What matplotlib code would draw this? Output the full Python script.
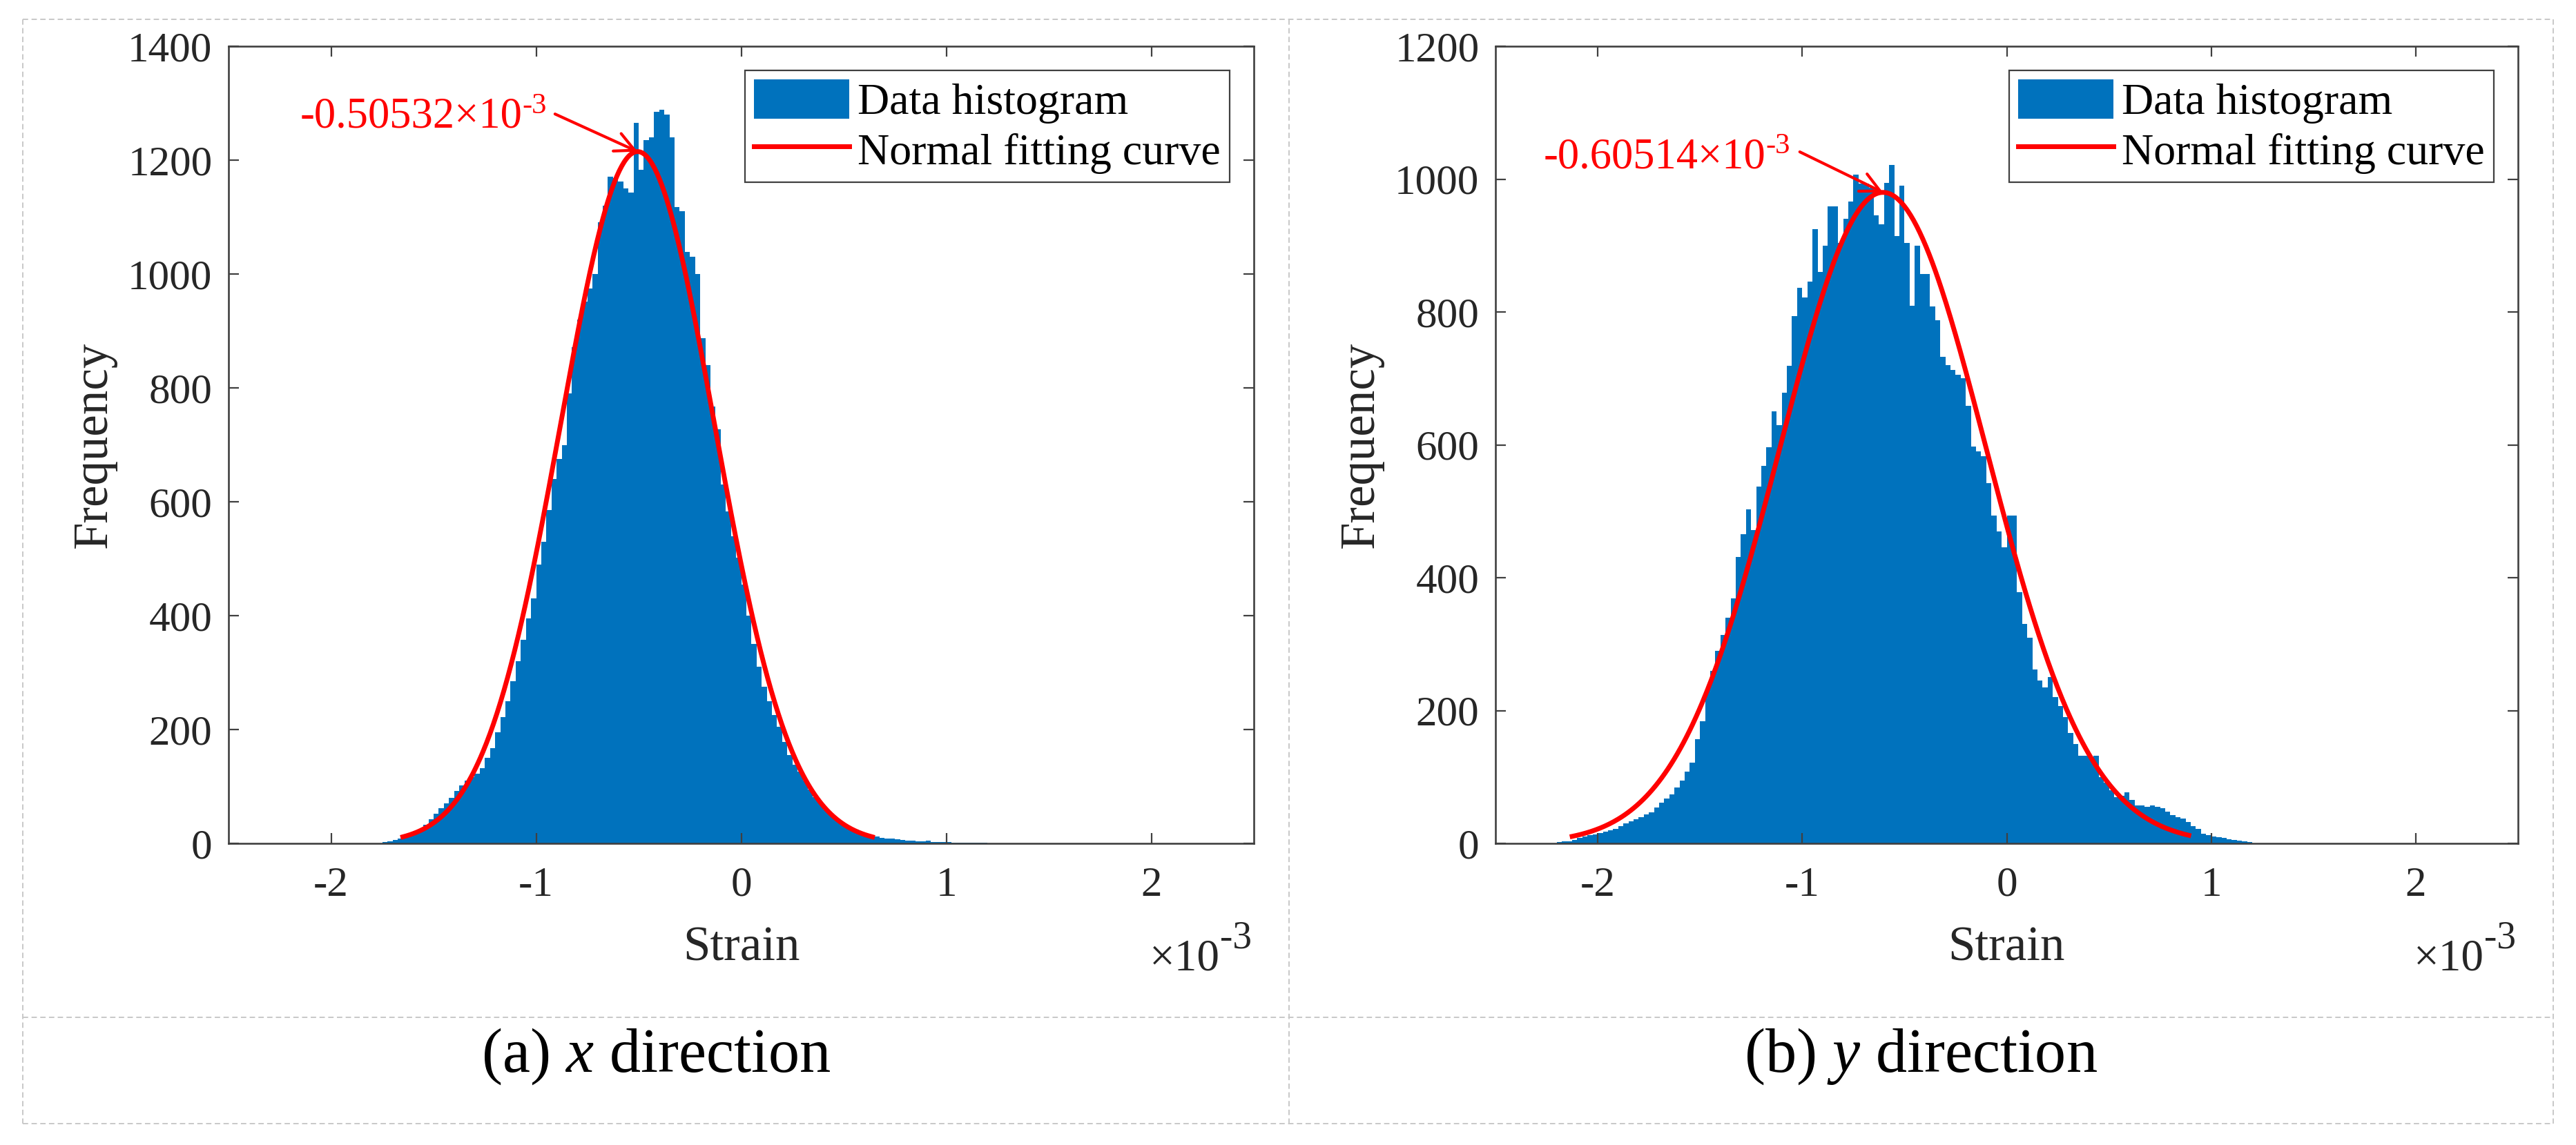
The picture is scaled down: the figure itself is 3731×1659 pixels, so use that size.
import numpy as np
import matplotlib
matplotlib.use("Agg")
import matplotlib.pyplot as plt
from matplotlib.lines import Line2D

W, H, DPI = 3731, 1659, 100

plt.rcParams["font.family"] = ["Liberation Serif", "DejaVu Serif"]
plt.rcParams["mathtext.fontset"] = "custom"
plt.rcParams["mathtext.rm"] = "Liberation Serif"
plt.rcParams["mathtext.it"] = "Liberation Serif:italic"
plt.rcParams["axes.unicode_minus"] = False

# ---- data (strain in units of 1e-3) ----
bin_width = 0.025

x_hist_start = -1.75
x_counts = [
    2, 4, 6, 9, 12, 15, 20, 26, 33, 42,
    52, 62, 70, 80, 92, 102, 110, 116, 122, 132,
    150, 167, 195, 222, 250, 285, 320, 358, 395, 430,
    490, 530, 585, 640, 675, 700, 790, 871, 920, 951,
    975, 1000, 1091, 1120, 1171, 1168, 1163, 1150, 1143, 1265,
    1183, 1235, 1240, 1285, 1288, 1280, 1240, 1118, 1110, 1039,
    1030, 1000, 887, 840, 767, 727, 630, 583, 540, 502,
    455, 400, 350, 310, 275, 250, 225, 205, 178, 155,
    138, 126, 110, 95, 81, 70, 60, 52, 45, 38,
    32, 27, 24, 20, 16, 14, 12, 10, 9, 8,
    7, 6, 5, 5, 4, 4, 5, 3, 2, 2,
    2, 1, 1, 1, 1, 1, 1, 1,
]

y_hist_start = -2.2
y_counts = [
    2, 3, 3, 5, 8, 10, 12, 14, 16, 18,
    20, 22, 26, 30, 33, 36, 40, 44, 47, 54,
    61, 68, 74, 84, 95, 108, 122, 157, 184, 232,
    260, 290, 314, 340, 369, 431, 465, 503, 472, 537,
    568, 596, 650, 630, 678, 719, 794, 836, 822, 846,
    925, 860, 900, 959, 959, 904, 940, 966, 1007, 993,
    993, 987, 945, 932, 994, 1021, 914, 990, 904, 809,
    900, 857, 857, 808, 788, 732, 720, 713, 705, 700,
    659, 597, 590, 583, 542, 494, 470, 446, 494, 494,
    378, 330, 310, 262, 245, 235, 250, 220, 207, 190,
    166, 150, 132, 132, 128, 132, 100, 91, 80, 70,
    72, 77, 65, 57, 57, 55, 57, 55, 53, 48,
    43, 40, 37, 32, 26, 22, 15, 12, 10, 9,
    8, 6, 5, 4, 3, 2,
]

# normal fits
x_fit_mean, x_fit_sigma, x_fit_peak = -0.50532, 0.375, 1215
x_fit_lo, x_fit_hi = -1.65, 0.64
y_fit_mean, y_fit_sigma, y_fit_peak = -0.60514, 0.505, 980
y_fit_lo, y_fit_hi = -2.125, 0.89

x_ticks = [-2, -1, 0, 1, 2]
x_tick_labels = ["-2", "-1", "0", "1", "2"]

BLUE = "#0072BD"
AX_COL = "#404040"
TXT_COL = "#262626"

fig = plt.figure(figsize=(W / DPI, H / DPI), dpi=DPI)
fig.patch.set_facecolor("white")


def fx(px):
    return px / W


def fy(py):
    return 1 - py / H


def sup_after(ax, x, y, base, sup, size, color, coords="data"):
    t = ax.annotate(base, xy=(x, y), xycoords=coords, fontsize=size, color=color,
                    ha="left", va="baseline")
    r = fig.canvas.get_renderer()
    w = t.get_window_extent(r).width
    ax.annotate(sup, xy=(x, y), xycoords=coords, xytext=(w * 72 / DPI, 15),
                textcoords="offset points", fontsize=size * 0.68, color=color,
                ha="left", va="baseline")


def exponent_label(ax):
    r = fig.canvas.get_renderer()
    s = ax.annotate("-3", xy=(1, 0), xycoords="axes fraction",
                    xytext=(-3 * 0.72, -151 * 0.72), textcoords="offset points",
                    ha="right", va="baseline", fontsize=40, color=TXT_COL)
    ws = s.get_window_extent(r).width
    ax.annotate("\u00d710", xy=(1, 0), xycoords="axes fraction",
                xytext=((-3 - ws) * 0.72, -183 * 0.72), textcoords="offset points",
                ha="right", va="baseline", fontsize=47, color=TXT_COL)


def draw_panel(ax, start, counts, ymax, mean, sigma, peak, lo, hi,
               label, text_x, text_y, arrow_x, arrow_y):
    edges = start + bin_width * np.arange(len(counts) + 1)
    hist = ax.stairs(counts, edges, fill=True, color=BLUE, lw=0,
                     label="Data histogram")
    xs = np.linspace(lo, hi, 400)
    ys = peak * np.exp(-0.5 * ((xs - mean) / sigma) ** 2)
    line, = ax.plot(xs, ys, color="red", lw=5, label="Normal fitting curve")

    ax.set_xlim(-2.5, 2.5)
    ax.set_ylim(0, ymax)
    ax.set_xticks(x_ticks)
    ax.set_xticklabels(x_tick_labels)
    ax.set_yticks(np.arange(0, ymax + 1, 200))
    for s in ax.spines.values():
        s.set_color(AX_COL)
        s.set_linewidth(1.9)
    ax.tick_params(direction="in", length=10.8, width=1.6, color=AX_COL,
                   top=True, right=True, labelsize=44, labelcolor=TXT_COL)
    ax.tick_params(axis="x", pad=24)
    ax.tick_params(axis="y", pad=17)

    ax.text(-0.1313, 0.5, "Frequency", rotation=90, ha="center", va="center",
            transform=ax.transAxes, fontsize=51, color=TXT_COL)
    ax.text(0.5, -0.147, "Strain", ha="center", va="baseline",
            transform=ax.transAxes, fontsize=51, color=TXT_COL)

    leg = ax.legend(handles=[hist, line], loc="upper right", fontsize=46,
                    frameon=True, fancybox=False, framealpha=1,
                    edgecolor=AX_COL, borderpad=0.2, labelspacing=0.12,
                    handlelength=2.15, handleheight=1.0, handletextpad=0.2,
                    borderaxespad=0.55)
    leg.get_frame().set_linewidth(1.6)
    for t in leg.get_texts():
        t.set_color("black")

    sup_after(ax, text_x, text_y, label, "-3", 45, "red")
    ax.annotate("", xy=(mean, peak), xytext=(arrow_x, arrow_y),
                arrowprops=dict(arrowstyle="->", color="red", lw=3,
                                mutation_scale=50, shrinkA=0, shrinkB=0))
    exponent_label(ax)


ax1 = fig.add_axes([fx(331), fy(1222), fx(1816 - 331), (1222 - 67) / H])
ax2 = fig.add_axes([fx(2166), fy(1222), fx(3647 - 2166), (1222 - 67) / H])

draw_panel(ax1, x_hist_start, x_counts, 1400, x_fit_mean, x_fit_sigma, x_fit_peak,
           x_fit_lo, x_fit_hi, "-0.50532\u00d710", -2.151, 1257, -0.908, 1281)
draw_panel(ax2, y_hist_start, y_counts, 1200, y_fit_mean, y_fit_sigma, y_fit_peak,
           y_fit_lo, y_fit_hi, "-0.60514\u00d710", -2.266, 1017, -1.012, 1041)

# captions
fig.text(fx(950), fy(1553), "(a) $x$ direction", ha="center", va="baseline",
         fontsize=65, color="black")
fig.text(fx(2782), fy(1553), "(b) $y$ direction", ha="center", va="baseline",
         fontsize=65, color="black")

# dashed table frame
frame_kw = dict(transform=fig.transFigure, color="#c8c8c8", lw=1.4,
                linestyle=(0, (4, 2.5)))
x0, x1, xm = fx(33), fx(3698), fx(1867)
y0, y1, ym = fy(28), fy(1628), fy(1474)
for xa, ya, xb, yb in [(x0, y0, x1, y0), (x0, y1, x1, y1), (x0, ym, x1, ym),
                       (x0, y0, x0, y1), (x1, y0, x1, y1), (xm, y0, xm, y1)]:
    fig.add_artist(Line2D([xa, xb], [ya, yb], **frame_kw))

fig.savefig("out.png", dpi=DPI)
